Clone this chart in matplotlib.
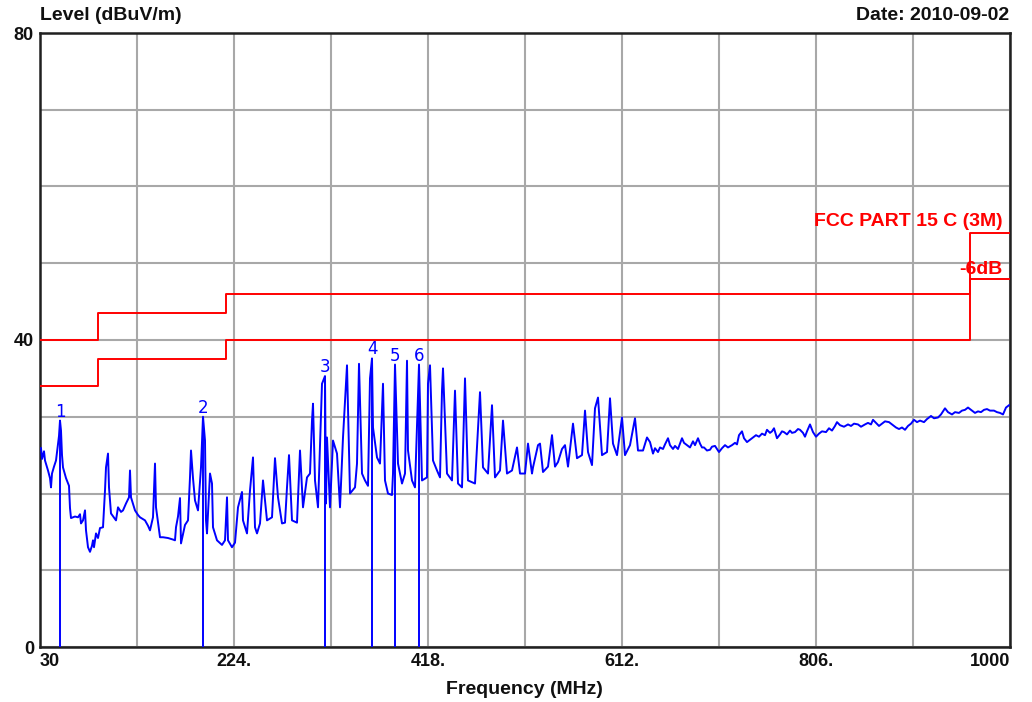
import matplotlib
matplotlib.use("Agg")
import matplotlib.pyplot as plt
from matplotlib.ticker import FixedLocator

plt.rcParams['font.family'] = ['Liberation Sans', 'DejaVu Sans']

# ---- data ----
freq = [31, 32, 34, 35, 38, 40, 41, 42, 44, 46, 48, 49, 50, 51, 52, 53, 56, 59, 60, 61,
        65, 68, 70, 71, 73, 75, 76, 78, 80, 82, 83, 84, 86, 88, 90, 93, 95, 96, 98, 99,
        101, 106, 108, 111, 113, 116, 119, 120, 121, 125, 128, 130, 135, 138, 140, 143, 145, 146, 150, 153,
        158, 163, 165, 166, 168, 170, 171, 175, 178, 180, 181, 183, 185, 188, 191, 193, 195, 196, 197, 200,
        202, 203, 207, 212, 215, 217, 218, 222, 225, 228, 232, 233, 237, 240, 243, 245, 247, 250, 253, 257,
        262, 265, 268, 272, 275, 277, 279, 282, 287, 290, 293, 297, 300, 302, 303, 305, 308, 312, 315, 316,
        317, 320, 323, 327, 330, 333, 337, 340, 345, 347, 349, 352, 355, 358, 360, 362, 363, 367, 370, 373,
        375, 378, 382, 383, 385, 388, 392, 395, 397, 398, 402, 405, 409, 412, 417, 418, 420, 423, 427, 430,
        432, 433, 437, 442, 445, 448, 452, 455, 458, 465, 470, 473, 478, 482, 485, 490, 493, 497, 502, 507,
        510, 515, 518, 522, 523, 528, 530, 533, 538, 542, 545, 548, 552, 555, 558, 562, 563, 567, 572, 575,
        578, 582, 585, 588, 592, 597, 600, 603, 607, 612, 615, 620, 625, 628, 633, 637, 640,
        643, 645, 648, 650, 653, 655, 658, 660, 663, 665, 668, 670, 672, 674, 677, 680, 683, 685, 688, 690,
        692, 694, 697, 700, 702, 705, 707, 709, 712, 715, 718, 722, 725, 727, 729, 732, 734, 737, 740, 743,
        746, 749, 752, 755, 757, 760, 762, 764, 767, 770, 772, 774, 777, 780, 782, 785, 788, 790, 793, 795,
        797, 800, 803, 806, 809, 812, 816, 819, 822, 825, 827, 830, 834, 838, 841, 844, 848, 851, 855, 858,
        861, 863, 866, 869, 872, 875, 879, 882, 886, 889, 892, 895, 898, 901, 904, 907, 910, 914, 917, 921,
        924, 928, 931, 935, 938, 942, 945, 949, 952, 955, 958, 961, 965, 968, 971, 974, 977, 980, 984, 987,
        990, 993, 996, 999]
level = [25.9, 24.5, 25.5, 24.3, 23.0, 22.0, 20.8, 22.6, 23.5, 24.3, 26.5, 27.5, 29.5, 28.2, 25.0, 23.4, 22.0, 21.0, 18.1, 16.8,
         17.0, 16.9, 17.3, 16.1, 16.5, 17.8, 15.2, 13.0, 12.4, 13.2, 13.9, 13.0, 14.8, 14.2, 15.5, 15.6, 20.4, 23.4, 25.2, 20.8,
         17.4, 16.5, 18.2, 17.6, 17.8, 18.7, 19.5, 23.0, 19.5, 17.8, 17.2, 16.9, 16.5, 15.8, 15.2, 16.9, 23.9, 18.2, 14.3, 14.3,
         14.2, 14.0, 13.9, 15.6, 17.0, 19.4, 13.5, 15.9, 16.5, 22.1, 25.6, 22.0, 19.1, 17.8, 23.4, 30.0, 26.9, 16.5, 14.8, 22.6,
         21.3, 15.6, 13.9, 13.3, 13.9, 19.5, 13.9, 13.0, 13.6, 18.2, 20.2, 16.5, 14.8, 20.4, 24.7, 15.6, 14.8, 16.1, 21.7, 16.5,
         16.9, 24.6, 19.5, 16.1, 16.2, 20.8, 25.0, 16.5, 16.2, 25.6, 18.2, 22.1, 22.6, 29.5, 31.7, 21.7, 18.2, 34.3, 35.3, 18.7,
         27.3, 18.2, 26.9, 25.2, 18.2, 27.3, 36.7, 20.0, 20.8, 23.9, 36.9, 22.6, 21.7, 21.0, 35.0, 37.6, 28.6, 24.7, 23.9, 34.3,
         21.7, 20.0, 19.8, 22.6, 36.8, 23.9, 21.3, 22.6, 37.3, 25.6, 21.7, 20.8, 36.8, 21.7, 22.1, 34.3, 36.7, 24.3, 23.0, 22.1,
         33.4, 36.3, 22.6, 21.7, 33.4, 21.3, 20.8, 35.0, 21.7, 21.3, 33.2, 23.4, 22.6, 31.5, 22.1, 23.0, 29.5, 22.6, 23.0, 26.0,
         22.6, 22.6, 26.5, 22.6, 23.4, 26.3, 26.5, 22.8, 23.5, 27.6, 23.5, 24.1, 25.8, 26.3, 23.5, 28.0, 29.1, 24.6, 25.0, 30.8,
         25.4, 23.7, 31.1, 32.5, 25.0, 25.4, 32.4, 26.5, 25.0, 29.9, 25.0, 26.3, 29.8, 25.6, 25.6, 27.3, 26.7,
         25.2, 25.9, 25.4, 26.0, 25.8, 26.4, 27.2, 26.3, 25.8, 26.2, 25.8, 26.5, 27.2, 26.6, 26.3, 26.0, 26.8, 26.3, 27.2, 26.5,
         26.0, 26.0, 25.6, 25.7, 26.1, 26.2, 25.8, 25.4, 25.9, 26.3, 26.0, 26.3, 26.6, 26.4, 27.6, 28.1, 27.2, 26.7, 27.0, 27.3,
         27.6, 27.4, 27.8, 27.6, 28.3, 27.9, 28.1, 28.5, 27.2, 27.7, 28.1, 28.0, 27.7, 28.2, 27.9, 28.0, 28.4, 28.3, 27.9, 27.4,
         28.1, 29.0, 28.0, 27.4, 27.8, 28.1, 28.0, 28.5, 28.2, 28.8, 29.3, 28.9, 28.7, 29.0, 28.8, 29.1, 29.0, 28.7, 29.0, 29.2,
         29.0, 29.6, 29.2, 28.8, 29.1, 29.4, 29.3, 29.0, 28.6, 28.4, 28.6, 28.3, 28.8, 29.1, 29.6, 29.3, 29.5, 29.3, 29.7, 30.1,
         29.8, 29.9, 30.3, 31.1, 30.6, 30.3, 30.6, 30.5, 30.8, 30.9, 31.2, 30.9, 30.5, 30.7, 30.6, 30.9, 31.0, 30.8, 30.8, 30.6,
         30.5, 30.3, 31.2, 31.5]

limit_freq = [30, 88, 88, 216, 216, 960, 960, 1000]
limit_level = [40, 40, 43.5, 43.5, 46, 46, 54, 54]
margin_level = [34, 34, 37.5, 37.5, 40, 40, 48, 48]

marker_ids = ['1', '2', '3', '4', '5', '6']
marker_freq = [50, 193, 315, 362, 385, 409]
marker_level = [29.5, 30.0, 35.3, 37.6, 36.8, 36.8]

xtick_vals = [30, 224, 418, 612, 806, 1000]
xtick_labels = ['30', '224.', '418.', '612.', '806.', '1000']
xgrid_minor = [127, 321, 515, 709, 903]
ytick_vals = [0, 40, 80]

# ---- figure ----
fig = plt.figure(figsize=(10.32, 7.02), dpi=100)
ax = fig.add_axes([40/1032, 55/702, 970/1032, 614/702])
ax.set_xlim(30, 1000)
ax.set_ylim(0, 80)

ax.xaxis.set_major_locator(FixedLocator(xtick_vals))
ax.xaxis.set_minor_locator(FixedLocator(xgrid_minor))
ax.yaxis.set_major_locator(FixedLocator(list(range(0, 81, 10))))
ax.set_xticklabels([])
ax.set_yticklabels([])
ax.tick_params(which='both', length=0)
ax.grid(True, which='both', color='#a8a8a8', linewidth=1.5)
ax.set_axisbelow(True)
for s in ax.spines.values():
    s.set_linewidth(1.8)
    s.set_color('#202020')

# limit lines
ax.plot(limit_freq, limit_level, color='#ff0000', linewidth=1.4, zorder=3)
ax.plot(limit_freq, margin_level, color='#ff0000', linewidth=1.4, zorder=3)

# trace
ax.plot(freq, level, color='#0000ff', linewidth=1.4, zorder=4)

# markers
for mid, mf, ml in zip(marker_ids, marker_freq, marker_level):
    ax.vlines(mf, 0, ml, color='#0000ff', linewidth=1.4, zorder=4)
    ax.text(mf, ml, mid, color='#0000ff', fontsize=12, ha='center', va='bottom',
            family=['DejaVu Sans'], zorder=5)

# labels
FS = 13
FT = 14
bold = dict(fontweight='bold', fontsize=FS, color='#101010')
boldt = dict(fontweight='bold', fontsize=FT, color='#101010')
for v, lab in zip(xtick_vals, xtick_labels):
    ha = 'left' if v == xtick_vals[0] else ('right' if v == xtick_vals[-1] else 'center')
    ax.annotate(lab, xy=(v, 0), xycoords='data', xytext=(0, -6), textcoords='offset pixels',
                ha=ha, va='top', **bold)
for v in ytick_vals:
    ax.annotate(str(v), xy=(0, v), xycoords=('axes fraction', 'data'), xytext=(-6, -2),
                textcoords='offset pixels', ha='right', va='center', **bold)

fig.text(40/1032, 1 - 15/702, 'Level (dBuV/m)', ha='left', va='center', **boldt)
fig.text(1009/1032, 1 - 15/702, 'Date: 2010-09-02', ha='right', va='center', **boldt)
fig.text(524/1032, 1 - 689/702, 'Frequency (MHz)', ha='center', va='center', **boldt)

ax.text(993, 55.4, 'FCC PART 15 C (3M)', color='#ff0000', fontweight='bold', fontsize=FT,
        ha='right', va='center', zorder=5)
ax.text(993, 49.2, '-6dB', color='#ff0000', fontweight='bold', fontsize=FT,
        ha='right', va='center', zorder=5)

fig.savefig('out.png', dpi=100)
